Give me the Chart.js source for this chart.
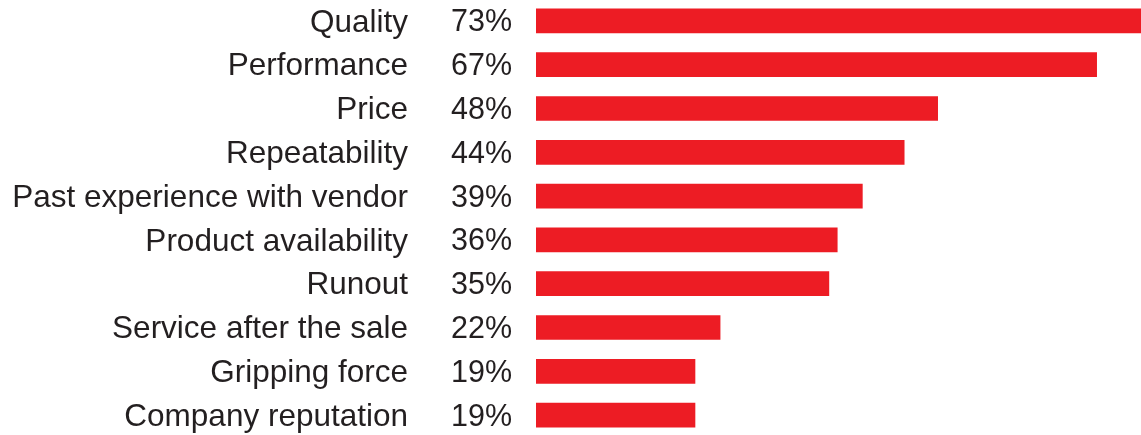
<!DOCTYPE html>
<html>
<head>
<meta charset="utf-8">
<script src="https://cdn.jsdelivr.net/npm/chart.js"></script>
<style>
  html, body { margin: 0; padding: 0; background: #fff; overflow: hidden; }
  #wrap { position: absolute; left: 0; top: -1px; width: 1141px; height: 438px; }
</style>
</head>
<body>
<div id="wrap"><canvas id="chart"></canvas></div>
<script>
const categories = [
  "Quality", "Performance", "Price", "Repeatability", "Past experience with vendor",
  "Product availability", "Runout", "Service after the sale", "Gripping force", "Company reputation"
];
const shares = [73, 67, 48, 44, 39, 36, 35, 22, 19, 19];

const FONT = "'Liberation Sans', Arial, sans-serif";
const TEXT = "#231f20";

// draws the "73%" column between the names and the bars
const percentLabels = {
  id: "percentLabels",
  afterDatasetsDraw(chart) {
    const { ctx, chartArea } = chart;
    const meta = chart.getDatasetMeta(0);
    ctx.save();
    ctx.font = "30.5px " + FONT;
    ctx.fillStyle = TEXT;
    ctx.textAlign = "left";
    ctx.textBaseline = "middle";
    meta.data.forEach((bar, i) => {
      ctx.fillText(shares[i] + "%", chartArea.left - 85, bar.y + 2);
    });
    ctx.restore();
  }
};

new Chart(document.getElementById("chart"), {
  type: "bar",
  data: {
    labels: categories,
    datasets: [{
      data: shares,
      backgroundColor: "#ed1c24",
      borderWidth: 0,
      barThickness: 24
    }]
  },
  options: {
    indexAxis: "y",
    responsive: true,
    maintainAspectRatio: false,
    animation: false,
    layout: { padding: 0 },
    plugins: { legend: { display: false }, tooltip: { enabled: false } },
    scales: {
      x: { display: false, min: 0, max: 72.3 },
      y: {
        grid: { display: false, drawTicks: false },
        border: { display: false },
        ticks: {
          color: TEXT,
          padding: 128,
          labelOffset: 2,
          font: { family: FONT, size: 31.5 }
        },
        afterFit(scale) {
          scale.width = 536;
          // the big tick padding would otherwise be added above and below
          scale.paddingTop = 0;
          scale.paddingBottom = 0;
        }
      }
    }
  },
  plugins: [percentLabels]
});
</script>
</body>
</html>
